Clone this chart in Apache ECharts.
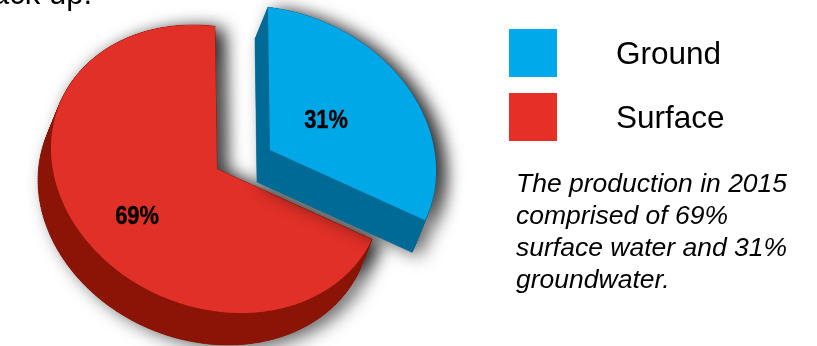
<!DOCTYPE html>
<html>
<head>
<meta charset="utf-8">
<style>html,body{margin:0;padding:0;background:#fff}#c{width:817px;height:346px}</style>
<script src="https://cdn.jsdelivr.net/npm/echarts@6/dist/echarts.min.js"></script>
</head>
<body>
<div id="c"></div>
<script>
// Water production by source, 2015
const categories = ['Ground', 'Surface'];
const shares = [31, 69];
const noteLines = [
  'The production in 2015',
  'comprised of 69%',
  'surface water and 31%',
  'groundwater.'
];
const headingTail = 'back up.';

// Tilted-disc projection: a unit circle maps to this sheared ellipse
const DISC = { a: 166, c: 20.8, d: 142.5 };
const DEPTH = { x: -13, y: 32 };
const START_ANGLE = -90.7;

const sliceLook = {
  Ground: { apex: [270, 150], top: '#00A8E8', side: '#006A96', swatch: '#00A9EA', labelAt: [56, -29] },
  Surface: { apex: [217, 169], top: '#E03027', side: '#8B1406', swatch: '#E63027', labelAt: [-80, 48] }
};
const SHADOW = { shadowColor: 'rgba(0,0,0,0.62)', shadowBlur: 18, shadowOffsetX: 8, shadowOffsetY: 4 };

const total = shares.reduce((s, v) => s + v, 0);

function angleRange(index) {
  let from = START_ANGLE;
  for (let i = 0; i < index; i++) from += shares[i] / total * 360;
  return [from, from + shares[index] / total * 360];
}

function outline(apex, range) {
  const pts = [apex.slice()];
  const steps = Math.ceil(range[1] - range[0]);
  for (let i = 0; i <= steps; i++) {
    const t = (range[0] + (range[1] - range[0]) * i / steps) * Math.PI / 180;
    pts.push([
      apex[0] + DISC.a * Math.cos(t),
      apex[1] + DISC.c * Math.cos(t) + DISC.d * Math.sin(t)
    ]);
  }
  return pts;
}

// Side walls: every outline edge swept along the depth vector, all wound alike
function sweepPath(pts) {
  let path = '';
  const f = (p) => p[0].toFixed(2) + ' ' + p[1].toFixed(2);
  for (let i = 0; i < pts.length; i++) {
    const p = pts[i], q = pts[(i + 1) % pts.length];
    let quad = [p, q, [q[0] + DEPTH.x, q[1] + DEPTH.y], [p[0] + DEPTH.x, p[1] + DEPTH.y]];
    const area = (q[0] - p[0]) * DEPTH.y - (q[1] - p[1]) * DEPTH.x;
    if (area < 0) quad = quad.reverse();
    path += 'M' + f(quad[0]) + 'L' + f(quad[1]) + 'L' + f(quad[2]) + 'L' + f(quad[3]) + 'Z';
  }
  return path;
}

function sliceSeries(index) {
  const name = categories[index];
  const look = sliceLook[name];
  return {
    type: 'custom',
    name: name,
    coordinateSystem: 'none',
    silent: true,
    animation: false,
    itemStyle: { color: look.swatch },
    data: [[shares[index]]],
    renderItem: function (params, api) {
      const value = api.value(0);
      const pts = outline(look.apex, angleRange(index));
      const sweep = sweepPath(pts);
      return {
        type: 'group',
        children: [
          { type: 'polygon', shape: { points: pts }, style: Object.assign({ fill: look.top }, SHADOW) },
          { type: 'path', shape: { pathData: sweep }, style: Object.assign({ fill: look.side }, SHADOW) },
          { type: 'path', shape: { pathData: sweep }, style: { fill: look.side, stroke: look.side, lineWidth: 0.5 } },
          { type: 'polygon', shape: { points: pts }, style: { fill: look.top } },
          {
            type: 'text',
            x: look.apex[0] + look.labelAt[0],
            y: look.apex[1] + look.labelAt[1],
            scaleX: 0.84,
            style: {
              text: value + '%',
              fill: '#000',
              stroke: '#000',
              lineWidth: 0.4,
              align: 'center',
              verticalAlign: 'middle',
              font: 'bold 26px "Liberation Sans", sans-serif'
            }
          }
        ]
      };
    }
  };
}

const chart = echarts.init(document.getElementById('c'), null, { renderer: 'canvas' });
chart.setOption({
  backgroundColor: '#fff',
  animation: false,
  legend: {
    data: categories,
    orient: 'vertical',
    left: 509,
    top: 29,
    padding: 0,
    itemWidth: 48,
    itemHeight: 48,
    itemGap: 16,
    icon: 'rect',
    selectedMode: false,
    formatter: (name) => '{entry|' + name + '}',
    textStyle: {
      rich: {
        entry: {
          color: '#000',
          fontSize: 31.5,
          fontFamily: '"Liberation Sans", Arial, sans-serif',
          padding: [5, 0, 0, 54]
        }
      }
    }
  },
  // Surface is painted first so the Ground wedge casts its shadow across it
  series: [sliceSeries(1), sliceSeries(0)],
  graphic: [
    {
      type: 'text',
      x: 92,
      y: -20,
      style: {
        text: headingTail,
        fill: '#000',
        align: 'right',
        verticalAlign: 'top',
        font: '31px "Liberation Sans", Arial, sans-serif'
      }
    },
    {
      type: 'text',
      x: 516,
      y: 169,
      style: {
        text: noteLines.join('\n'),
        fill: '#000',
        align: 'left',
        verticalAlign: 'top',
        lineHeight: 32,
        font: 'italic 26.5px "Liberation Sans", Arial, sans-serif'
      }
    }
  ]
});
</script>
</body>
</html>
